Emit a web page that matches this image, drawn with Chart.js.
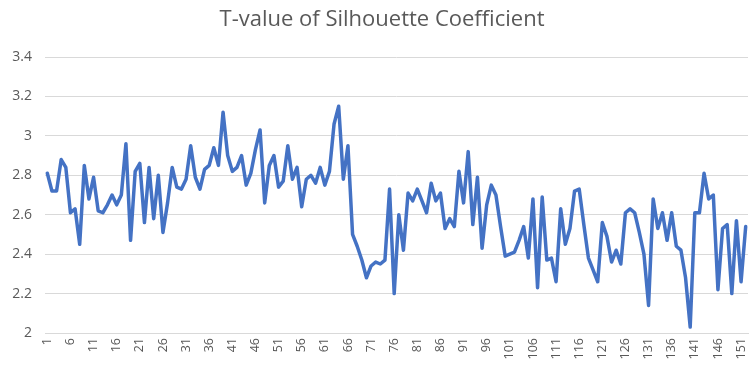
<!DOCTYPE html>
<html>
<head>
<meta charset="utf-8">
<script src="https://cdn.jsdelivr.net/npm/chart.js@4/dist/chart.umd.min.js"></script>
<style>
html,body{margin:0;padding:0;background:#fff;}
#wrap{width:756px;height:381px;position:relative;}
</style>
</head>
<body>
<div id="wrap"><canvas id="c" width="756" height="381"></canvas></div>
<script>
const chartTitle = "T-value of Silhouette Coefficient";
const categories = [];
for (let i = 1; i <= 152; i++) categories.push(String(i));
const tValues = [
  2.81, 2.72, 2.72, 2.88, 2.84, 2.61, 2.63, 2.45, 2.85, 2.68,
  2.79, 2.62, 2.61, 2.65, 2.70, 2.65, 2.70, 2.96, 2.47, 2.82,
  2.86, 2.56, 2.84, 2.58, 2.80, 2.51, 2.66, 2.84, 2.74, 2.73,
  2.78, 2.95, 2.79, 2.73, 2.83, 2.85, 2.94, 2.85, 3.12, 2.90,
  2.82, 2.84, 2.90, 2.75, 2.81, 2.93, 3.03, 2.66, 2.85, 2.90,
  2.74, 2.77, 2.95, 2.78, 2.84, 2.64, 2.78, 2.80, 2.76, 2.84,
  2.75, 2.82, 3.06, 3.15, 2.78, 2.95, 2.50, 2.44, 2.37, 2.28,
  2.34, 2.36, 2.35, 2.37, 2.73, 2.20, 2.60, 2.42, 2.71, 2.67,
  2.73, 2.67, 2.61, 2.76, 2.67, 2.71, 2.53, 2.58, 2.54, 2.82,
  2.66, 2.92, 2.55, 2.79, 2.43, 2.65, 2.75, 2.70, 2.54, 2.39,
  2.40, 2.41, 2.47, 2.54, 2.38, 2.68, 2.23, 2.69, 2.37, 2.38,
  2.26, 2.63, 2.45, 2.53, 2.72, 2.73, 2.55, 2.38, 2.32, 2.26,
  2.56, 2.49, 2.36, 2.42, 2.35, 2.61, 2.63, 2.61, 2.51, 2.40,
  2.14, 2.68, 2.53, 2.61, 2.47, 2.61, 2.44, 2.42, 2.28, 2.03,
  2.61, 2.61, 2.81, 2.68, 2.70, 2.22, 2.53, 2.55, 2.20, 2.57,
  2.26, 2.54
];
const yTicks = [2, 2.2, 2.4, 2.6, 2.8, 3, 3.2, 3.4];
const xLabelEvery = 5;

const font = "'Open Sans', 'Liberation Sans', sans-serif";

const titleShift = {
  id: 'titleShift',
  afterLayout(chart) {
    const t = chart.titleBlock;
    if (t) { t.left += 8; t.right += 8; }
  }
};

new Chart(document.getElementById('c'), {
  type: 'line',
  data: {
    labels: categories,
    datasets: [{
      data: tValues,
      borderColor: '#4472C4',
      borderWidth: 3.5,
      pointRadius: 0,
      tension: 0,
      borderJoinStyle: 'round',
      borderCapStyle: 'round',
      fill: false
    }]
  },
  plugins: [titleShift],
  options: {
    responsive: false,
    animation: false,
    devicePixelRatio: 1,
    layout: { padding: { left: 0, right: 8, top: 0, bottom: 0 } },
    plugins: {
      legend: { display: false },
      tooltip: { enabled: false },
      title: {
        display: true,
        text: chartTitle,
        color: '#595959',
        font: { family: font, size: 22, weight: 'normal' },
        padding: { top: 7, bottom: 23.6 }
      }
    },
    scales: {
      x: {
        offset: true,
        grid: { display: false, drawTicks: false, offset: true },
        border: { display: true, color: '#d9d9d9', width: 1 },
        ticks: {
          autoSkip: false,
          minRotation: 90,
          maxRotation: 90,
          padding: 5,
          color: '#595959',
          font: { family: font, size: 12.5 },
          callback: function(v, i) { return i % xLabelEvery === 0 ? categories[i] : ''; }
        },
        afterFit: function(s) { s.height = 48; s.paddingLeft = 0; s.paddingRight = 0; }
      },
      y: {
        min: yTicks[0],
        max: yTicks[yTicks.length - 1],
        afterBuildTicks: function(s) { s.ticks = yTicks.map(v => ({ value: v })); },
        grid: { color: '#d9d9d9', lineWidth: 1, drawTicks: false },
        border: { display: false },
        ticks: {
          padding: 13,
          color: '#595959',
          font: { family: font, size: 14 },
          callback: function(v) { return String(+Number(v).toFixed(1)); }
        },
        afterFit: function(s) { s.width = 45; }
      }
    }
  }
});
</script>
</body>
</html>
